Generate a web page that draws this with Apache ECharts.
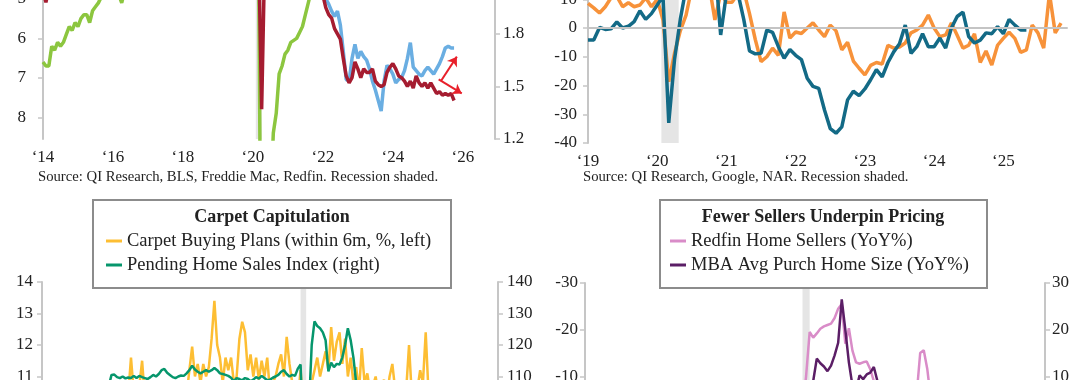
<!DOCTYPE html>
<html><head><meta charset="utf-8">
<script src="https://cdn.jsdelivr.net/npm/echarts@6/dist/echarts.min.js"></script>
<style>html,body{margin:0;padding:0;width:1080px;height:380px;overflow:hidden;background:#fff}
#c{position:absolute;left:0;top:-300px;width:1080px;height:1000px}</style>
</head><body><div id="c"></div>
<script>
// ---------- DATA ----------
// Top-left panel (monthly, from 2014-01)
const tlStart = [2014, 1];
const tlUnemp = [6.6,6.7,6.7,6.2,6.3,6.1,6.2,6.1,5.9,5.7,5.8,5.6,
 5.7,5.5,5.4,5.4,5.6,5.3,5.2,5.1,4.95,4.9,4.95,4.9,
 4.8,4.9,4.9,5.1,4.8,4.9,4.8,4.9,4.9,4.8,4.7,4.7,
 4.7,4.6,4.4,4.4,4.4,4.3,4.3,4.4,4.3,4.2,4.2,4.1,
 4.0,4.1,4.0,4.0,3.8,4.0,3.8,3.8,3.7,3.8,3.8,3.9,
 4.0,3.8,3.8,3.7,3.6,3.6,3.7,3.6,3.5,3.6,3.6,3.6,
 3.5,3.5,4.4,14.8,13.2,11.0,10.2,8.4,7.9,6.9,6.7,6.4,
 6.3,6.1,6.05,6.0,5.85,5.7,5.4,5.1,4.8,4.5,4.2,3.9,
 4.0,3.8,3.6,3.7,3.6,3.6,3.5,3.6,3.5,3.6,3.6,3.5,
 3.4,3.6,3.5,3.4,3.7,3.6,3.5,3.8,3.8,3.8,3.7,3.7,
 3.7,3.9,3.9,3.9,4.0,4.1,4.3,4.2,4.1,4.1,4.2,4.1,
 4.0,4.1,4.2,4.2,4.2,4.1,4.2,4.3,4.3];
const tlRed = [2.05,1.98,2.06,2.12,2.15,2.18,2.2,2.22,2.2,2.25,2.28,2.3,
 2.3,2.32,2.35,2.33,2.36,2.38,2.4,2.37,2.35,2.38,2.4,2.42,
 2.4,2.42,2.44,2.41,2.43,2.45,2.44,2.46,2.43,2.45,2.47,2.44,
 2.45,2.47,2.44,2.46,2.48,2.45,2.47,2.49,2.46,2.48,2.5,2.47,
 2.48,2.46,2.49,2.5,2.47,2.49,2.5,2.48,2.46,2.49,2.47,2.45,
 2.46,2.44,2.47,2.45,2.43,2.46,2.44,2.42,2.45,2.43,2.41,2.44,
 2.42,2.4,2.25,1.37,2.2,2.35,2.4,2.45,2.5,2.48,2.5,2.52,
 2.5,2.52,2.55,2.5,2.48,2.45,2.4,2.35,2.3,2.25,2.2,2.1,
 2.02,1.95,1.91,1.89,1.83,1.80,1.77,1.66,1.56,1.52,1.55,1.64,
 1.60,1.55,1.60,1.58,1.58,1.60,1.53,1.51,1.50,1.51,1.58,1.61,
 1.63,1.60,1.56,1.55,1.53,1.50,1.53,1.49,1.56,1.52,1.50,1.52,
 1.49,1.52,1.49,1.46,1.47,1.45,1.46,1.45,1.46,1.42];
const tlBlueStart = [2021, 1];
const tlBlue = [2.3,2.32,2.35,2.4,2.42,2.45,2.4,2.38,2.35,2.3,2.2,2.12,
 2.05,2.0,1.97,1.93,1.90,1.93,1.85,1.70,1.54,1.53,1.66,1.74,
 1.66,1.70,1.67,1.65,1.60,1.53,1.48,1.42,1.36,1.53,1.62,1.60,
 1.57,1.52,1.54,1.55,1.59,1.66,1.75,1.61,1.59,1.57,1.56,1.59,
 1.61,1.59,1.57,1.60,1.63,1.67,1.72,1.73,1.72,1.72];
const tlArrowUp = [[2025.37,1.53],[2025.83,1.67]];
const tlArrowDown = [[2025.31,1.54],[2025.97,1.46]];
const tlLeftTicks = {min:3, max:8.55, step:1};
const tlRightTicks = {min:1.2, max:2.45, step:0.3};
const tlYears = {min:2014, max:2026.92, step:2};

// Top-right panel (monthly, from 2019-01)
const trStart = [2019, 1];
const trOrange = [8.6,7,5.2,7.4,10.5,11,7.4,8.8,7.4,8,10.5,7.4,
 10,2.8,-18.7,-8.8,-1,4.5,14,18,20,15,2.8,12,
 9,9,12,13,5,-4,-11.7,-10,-7,-9.5,5.6,-3.5,
 -1.4,-1.9,0,1.8,-0.7,-3,1,-1,-7.6,-5,-11.5,-14,
 -16.3,-13,-12,-12.5,-6,-7,-6.6,-5.2,-1.7,-0.7,1,4.5,
 0,-3,-2.4,1.7,-2.5,-7,-6,-2,-12,-8,-12.9,-6,
 -3.6,-1.5,-3.6,-8.5,-7.6,1,-1.7,-7,12,-1.7,1.7];
const trTeal = [-4.2,-4.2,0.2,-0.5,-0.3,2.1,0,0.6,2.2,6,3,5,
 8,11,-33,-11,3,14,20,25,27,24,22,-2.4,
 12,18,12,3,-8,-9,-8.8,-0.7,-1.5,-6.5,-10.5,-7.5,
 -9.5,-11,-17.5,-20.3,-21,-28.5,-35,-36.6,-34.4,-25,-22,-23.5,
 -21.2,-18,-14.5,-17,-12,-8.3,-5.5,1,-8.8,-6.5,-2,-6.5,
 -6.5,-3.5,-7,0,4,5.5,-3,-5.2,-4.2,-1.7,-2,0.5,
 -2,3,1,-0.7,-0.7];
const trYTicks = {min:-40, max:40, step:10};
const trYears = {min:2019, max:2025.92, step:1};
const trRecession = [2020.06, 2020.31];

// Bottom-left panel (monthly, from 2012-05)
const blStart = [2012, 5];
const blCarpet = [9.8,10.2,9.6,10.0,10.4,9.9,10.1,9.7,10.3,10.6,10.0,9.8,
 10.4,10.2,9.9,10.5,10.1,9.7,10.3,10.0,10.6,10.2,9.9,10.4,
 10.7,10.1,10.3,9.8,10.5,10.2,10.6,10.4,
 11.6,10.5,10.2,10.7,11.5,10.3,10.6,10.1,10.5,10.8,10.2,10.6,10.4,10.7,10.3,10.8,10.5,10.2,10.6,10.8,10.4,
 11.2,11.95,11.0,11.4,10.8,11.4,11.0,11.3,12.2,13.4,12.0,11.6,10.8,11.6,11.2,11.6,10.8,11.0,12.2,12.74,12.4,
 11.2,11.7,11.0,11.6,10.9,11.5,11.0,11.6,10.5,10.8,11.0,11.4,11.7,11.0,12.26,11.4,10.8,10.5,10.3,11.2,
 10.0,9.8,10.2,10.8,11.2,11.6,11.0,11.4,11.8,11.2,12.57,11.5,12.1,12.4,11.4,12.2,11.0,11.6,10.8,11.3,
 10.5,11.9,10.8,11.1,10.5,10.7,11.0,10.4,10.6,10.9,10.3,11.0,11.4,10.6,10.2,10.5,10.0,10.6,12.0,10.4,
 10.2,10.6,11.2,10.8,12.4,10.5,10.2,10.4,10.0,9.8,10.1,9.9,10.3,10.0,9.7,10.2,9.9,10.1,9.8,10.0,10.3,9.9];
const blPending = [100,101,102,103,104,106,105,104,106,107,105,104,
 103,102,101,100,99,100,101,102,103,104,103,105,107,
 110.5,110.6,109.8,109.5,110,109.4,109.7,109.5,110.2,109.5,110.2,109.8,109.5,109.2,109.8,110.5,110,110.8,
 112,112.4,111.2,110.5,109.8,109.5,110,110.3,110.2,111,112,113.4,112.2,111.5,111,111.5,112,111.5,112,112.7,
 112,111,110.8,110.5,110.2,109.6,108.5,109.5,109.2,108.8,109.5,109.2,108.5,109.0,109.8,109.3,110.2,109.5,
 108.8,109.0,109.6,110.0,110.5,111.5,112,110.8,110,110.5,110.2,112.5,113.8,
 88,70,100,120,127.5,126,125.3,124,121.5,111.6,114.4,113,114,113.8,116,120,125.3,121.6,116,108,
 105,100,101,99,98,97,95,92,90,88,84,80,77,76,80,81,79,77,77,76,72,71,72,71,74,
 72,75,73,75,71,70,73,70,75,77,79,75,72,72,76,71,72,72,74,71];
const blLeftTicks = {min:6, max:14, step:1};
const blRightTicks = {min:60, max:140, step:10};
const blYears = {min:2012.333, max:2026};

// Bottom-right panel (monthly, from 2015-01)
const brStart = [2015, 1];
const brSellers = [2,3,1,4,2,5,3,1,2,4,3,2,
 1,0,2,-1,1,3,0,-2,1,2,0,-1,
 0,-2,-1,1,-3,-2,0,-1,-3,-2,-4,-1,
 -2,0,1,2,3,2,4,3,5,4,2,3,
 1,0,-1,-2,0,-3,-1,-2,-4,-3,-1,-2,
 -2,-3,-10,-19.5,-18.3,-19.2,-20.2,-20.7,-21,-21.3,-22.5,-24.5,
 -25.5,-17,-20.3,-15.5,-13,-12.7,-13,-13.2,-11.5,-9,-8,-7,
 -6,-5,-4,-3,-2,-3,-4,-5,-5,-6,-15,-15.6,
 -11.5,-5,-3,-2,0,1,2,3,2,1,0,-1,
 1,2,3,4,2,1,3,4,2,1,0,-1,
 -2,0,1,2,3,1,0,-1,-2];
const brSize = [3,4,2,5,3,6,4,2,3,5,4,3,
 2,1,3,0,2,4,1,-1,2,3,1,0,
 1,-1,0,2,-2,-1,1,0,-2,-1,-3,0,
 -1,1,2,3,4,3,5,4,6,5,3,4,
 2,1,0,-1,1,-2,0,-1,-3,-2,0,-1,
 4,5,3,5,9,13.8,12.8,12.1,11.1,12.3,14.5,17.2,
 26.5,20,13,8,7,10.2,9.4,10.4,10.8,12,9,6,
 4,3,2,1,0,-1,-2,-3,-2,-1,0,1,
 2,1,0,-1,-2,-1,0,1,2,1,0,-1,
 0,1,2,1,0,-1,-2,-1,0,1,2,1,
 0,-1,1,2,1,0,-1,0,1];
const brLeftTicks = {min:-30, max:30, step:10};
const brRightTicks = {min:-30, max:30, step:10};
const brYears = {min:2015, max:2025.75};

const recession = [2020.083, 2020.25];

// ---------- HELPERS ----------
function pairs(start, vals){ return vals.map((v,i)=>[start[0] + (start[1]-1+i)/12, v]); }
const FONT = 'Liberation Serif';
const TXT = '#222';
const AX = '#C6C6C6';
const yearLabel = v => '\u2018' + String(Math.round(v)).slice(2);
function yAx(grid, t, pos, inverse, margin){
  return {type:'value', gridIndex:grid, min:t.min, max:t.max, interval:t.step, position:pos, inverse:!!inverse,
    splitLine:{show:false},
    axisLine:{show:true, lineStyle:{color:AX, width:2}},
    axisTick:{show:true, length:5, lineStyle:{color:AX, width:1.5}},
    axisLabel:{color:TXT, fontFamily:FONT, fontSize:17, margin:margin, showMaxLabel:!inverse, showMinLabel:true}};
}
function recArea(r){ return {silent:true, itemStyle:{color:'#E5E5E5'}, data:[[{xAxis:r[0]},{xAxis:r[1]}]]}; }
const legendText = {color:TXT, fontFamily:FONT, fontSize:18.5, lineHeight:20};
function txt(text, x, y, size, bold, align){
  return {type:'text', x:x, y:y, z:11, style:{text:text, align:align, verticalAlign:'middle', textAlign:align, textVerticalAlign:'middle',
    fontFamily:FONT, fontSize:size, fontWeight:bold?'bold':'normal', fill:TXT}};
}

const chart = echarts.init(document.getElementById('c'), null, {renderer:'canvas'});
chart.setOption({
  animation:false,
  backgroundColor:'#fff',
  grid:[
    {left:43, right:585, top:220, bottom:561},
    {left:588, right:13, top:213, bottom:557},
    {left:42, right:582, top:582, bottom:166},
    {left:585, right:35, top:583, bottom:137}
  ],
  xAxis:[
    {type:'value', gridIndex:0, min:tlYears.min, max:tlYears.max, interval:tlYears.step,
     axisLine:{show:false}, axisTick:{show:false}, splitLine:{show:false},
     axisLabel:{formatter:yearLabel, showMaxLabel:false, color:TXT, fontFamily:FONT, fontSize:17, margin:10}},
    {type:'value', gridIndex:1, min:trYears.min, max:trYears.max, interval:trYears.step,
     axisLine:{show:true, lineStyle:{color:AX, width:2}}, axisTick:{show:false}, splitLine:{show:false},
     axisLabel:{formatter:yearLabel, showMaxLabel:false, color:TXT, fontFamily:FONT, fontSize:17, margin:10}},
    {type:'value', gridIndex:2, min:blYears.min, max:blYears.max, show:false, splitLine:{show:false}},
    {type:'value', gridIndex:3, min:brYears.min, max:brYears.max, show:false, splitLine:{show:false}}
  ],
  yAxis:[
    yAx(0, tlLeftTicks, 'left', true, 17),
    yAx(0, tlRightTicks, 'right', false, 8),
    yAx(1, trYTicks, 'left', false, 11),
    yAx(2, blLeftTicks, 'left', false, 9),
    yAx(2, blRightTicks, 'right', false, 9),
    yAx(3, brLeftTicks, 'left', true, 7),
    yAx(3, brRightTicks, 'right', false, 7)
  ],
  legend:[
    {data:['Carpet Buying Plans (within 6m, %, left)','Pending Home Sales Index (right)'],
     orient:'vertical', left:106, top:531, itemWidth:16, itemHeight:3, icon:'rect', itemGap:4, padding:0, z:10,
     selectedMode:false, textStyle:legendText},
    {data:['Redfin Home Sellers (YoY%)','MBA Avg Purch Home Size (YoY%)'],
     orient:'vertical', left:670, top:531, itemWidth:16, itemHeight:3, icon:'rect', itemGap:4, padding:0, z:10,
     selectedMode:false, textStyle:legendText}
  ],
  graphic:[
    {type:'rect', shape:{x:93, y:500, width:358, height:88}, style:{fill:'#fff', stroke:'#8C8C8C', lineWidth:2}, z:3},
    {type:'rect', shape:{x:660, y:500, width:327, height:88}, style:{fill:'#fff', stroke:'#8C8C8C', lineWidth:2}, z:3},
    txt('Carpet Capitulation', 272, 517, 18, true, 'center'),
    txt('Fewer Sellers Underpin Pricing', 823, 517, 18, true, 'center'),
    txt('Source: QI Research, BLS, Freddie Mac, Redfin. Recession shaded.', 38, 477, 14.7, false, 'left'),
    txt('Source: QI Research, Google, NAR. Recession shaded.', 583, 477, 14.7, false, 'left')
  ],
  series:[
    {name:'Unemployment', type:'line', xAxisIndex:0, yAxisIndex:0, data:pairs(tlStart, tlUnemp), showSymbol:false, lineStyle:{color:'#8CC63F', width:3.5}, itemStyle:{color:'#8CC63F'}, markArea:recArea(recession)},
    {name:'Blue', type:'line', xAxisIndex:0, yAxisIndex:1, data:pairs(tlBlueStart, tlBlue), showSymbol:false, lineStyle:{color:'#6AAEE2', width:3.5}, itemStyle:{color:'#6AAEE2'}},
    {name:'Red', type:'line', xAxisIndex:0, yAxisIndex:1, data:pairs(tlStart, tlRed), showSymbol:false, lineStyle:{color:'#A51C30', width:3.5}, itemStyle:{color:'#A51C30'},
     markLine:{silent:true, symbol:['none','arrow'], symbolSize:9, label:{show:false}, lineStyle:{color:'#E8202A', width:2, type:'solid'},
       data:[[{coord:tlArrowUp[0]},{coord:tlArrowUp[1]}],[{coord:tlArrowDown[0]},{coord:tlArrowDown[1]}]]}},
    {name:'Google', type:'line', xAxisIndex:1, yAxisIndex:2, data:pairs(trStart, trOrange), showSymbol:false, lineStyle:{color:'#F7923A', width:3.5}, itemStyle:{color:'#F7923A'}, markArea:recArea(trRecession),
     markLine:{silent:true, symbol:'none', label:{show:false}, lineStyle:{color:'#C4C4C4', width:2, type:'solid'}, data:[{yAxis:0}]}},
    {name:'NAR', type:'line', xAxisIndex:1, yAxisIndex:2, data:pairs(trStart, trTeal), showSymbol:false, lineStyle:{color:'#136A86', width:3.5}, itemStyle:{color:'#136A86'}},
    {name:'Carpet Buying Plans (within 6m, %, left)', type:'line', xAxisIndex:2, yAxisIndex:3, data:pairs(blStart, blCarpet), showSymbol:false, lineStyle:{color:'#FDBE33', width:2.5}, itemStyle:{color:'#FDBE33'}, markArea:recArea(recession)},
    {name:'Pending Home Sales Index (right)', type:'line', xAxisIndex:2, yAxisIndex:4, data:pairs(blStart, blPending), showSymbol:false, lineStyle:{color:'#06966C', width:2.5}, itemStyle:{color:'#06966C'}},
    {name:'Redfin Home Sellers (YoY%)', type:'line', xAxisIndex:3, yAxisIndex:5, data:pairs(brStart, brSellers), showSymbol:false, lineStyle:{color:'#D98CC8', width:2.5}, itemStyle:{color:'#D98CC8'}, markArea:recArea(recession)},
    {name:'MBA Avg Purch Home Size (YoY%)', type:'line', xAxisIndex:3, yAxisIndex:6, data:pairs(brStart, brSize), showSymbol:false, lineStyle:{color:'#5B1E66', width:2.5}, itemStyle:{color:'#5B1E66'}}
  ]
});
</script></body></html>
